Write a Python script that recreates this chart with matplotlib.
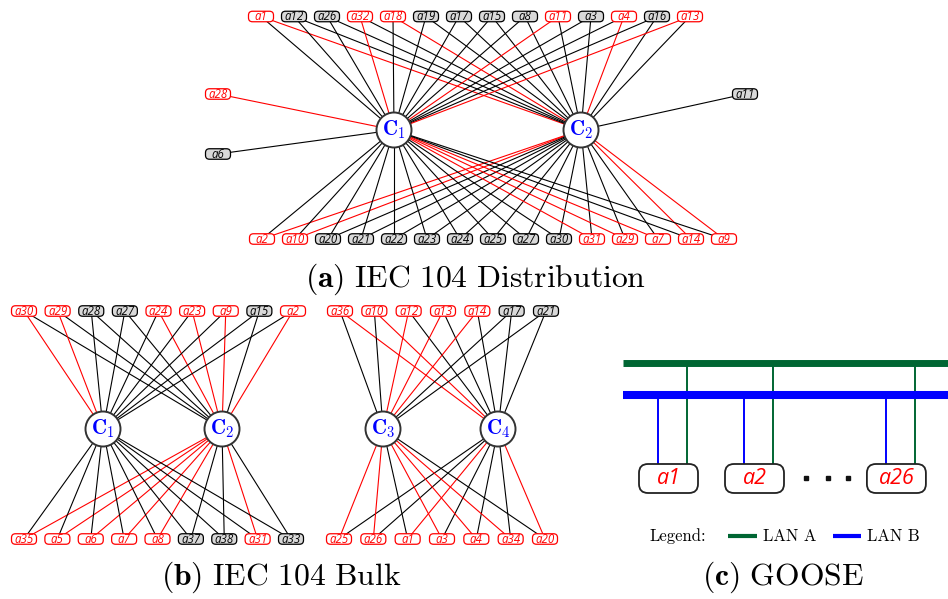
import numpy as np
import matplotlib
matplotlib.use("Agg")
import matplotlib.pyplot as plt
from matplotlib.patches import Circle, FancyBboxPatch

plt.rcParams['mathtext.fontset'] = 'cm'

RED = '#ff0000'
GRAY = '#d9d9d9'
GREEN = '#006633'
BLUE = '#0000ff'

# (a) IEC 104 Distribution: every outstation links to both centers,
# the number says which center's link is drawn red (0 = none)
top_a = ['a1', 'a12', 'a26', 'a32', 'a18', 'a19', 'a17', 'a15', 'a8', 'a11', 'a3', 'a4', 'a16', 'a13']
top_a_red = [2, 0, 0, 1, 2, 0, 0, 0, 0, 1, 0, 2, 0, 1]
bottom_a = ['a2', 'a10', 'a20', 'a21', 'a22', 'a23', 'a24', 'a25', 'a27', 'a30', 'a31', 'a29', 'a7', 'a14', 'a9']
bottom_a_red = [2, 2, 0, 0, 0, 0, 0, 0, 0, 0, 1, 1, 1, 2, 2]
# single-homed outstations
side_a = ['a28', 'a6', 'a11']
side_a_center = [1, 1, 2]
side_a_red = [1, 0, 0]

# (b) IEC 104 Bulk, left pair (C1, C2)
top_b1 = ['a30', 'a29', 'a28', 'a27', 'a24', 'a23', 'a9', 'a15', 'a2']
top_b1_red = [1, 1, 0, 0, 2, 2, 2, 0, 2]
bottom_b1 = ['a35', 'a5', 'a6', 'a7', 'a8', 'a37', 'a38', 'a31', 'a33']
bottom_b1_red = [2, 2, 2, 2, 2, 0, 0, 2, 0]

# (b) IEC 104 Bulk, right pair (C3, C4)
top_b2 = ['a36', 'a10', 'a12', 'a13', 'a14', 'a17', 'a21']
top_b2_red = [2, 2, 1, 1, 1, 0, 0]
bottom_b2 = ['a25', 'a26', 'a1', 'a3', 'a4', 'a34', 'a20']
bottom_b2_red = [1, 1, 2, 1, 1, 1, 2]

# (c) GOOSE
goose_nodes = ['a1', 'a2', 'a26']

fig = plt.figure(figsize=(9.48, 5.99), dpi=100)
ax = fig.add_axes([0, 0, 1, 1])
ax.set_xlim(0, 948)
ax.set_ylim(599, 0)
ax.axis('off')

BOX_W, BOX_H = 25, 10.5
R = 17.5


def node_box(x, y, name, red, w=BOX_W, h=BOX_H, rs=4, fs=8.3, lw=0.9):
    edge = RED if red else 'black'
    face = 'white' if red else GRAY
    ax.add_patch(FancyBboxPatch((x - w / 2, y - h / 2), w, h,
                                boxstyle=f'round,pad=0,rounding_size={rs}',
                                fc=face, ec=edge, lw=lw, zorder=3))
    ax.text(x, y + 0.4, name, ha='center', va='center', fontsize=fs,
            family='Open Sans', style='italic', color=RED if red else 'black', zorder=4)


def center(x, y, idx):
    ax.add_patch(Circle((x, y), R, fc='white', ec='#333333', lw=1.4, zorder=3))
    ax.text(x, y, r'$\mathbf{C}_{\mathbf{%d}}$' % idx, ha='center', va='center',
            fontsize=15, color=BLUE, zorder=4)


def link(p, q, red):
    ax.plot([p[0], q[0]], [p[1], q[1]], color=RED if red else 'black', lw=0.8, zorder=1)


def bipartite(names, reds, xs, y, cpos):
    for name, r, x in zip(names, reds, xs):
        for k, c in enumerate(cpos):
            link((x, y), c, r == k + 1)
        node_box(x, y, name, r)


# ---- (a)
ca = [(394, 130), (581, 130)]
bipartite(top_a, top_a_red, np.linspace(261, 690, len(top_a)), 16.5, ca)
bipartite(bottom_a, bottom_a_red, np.linspace(262, 724, len(bottom_a)), 239, ca)
side_pos = [(218, 94), (218, 154), (745, 94)]
for name, c, r, p in zip(side_a, side_a_center, side_a_red, side_pos):
    link(p, ca[c - 1], r == c)
    node_box(p[0], p[1], name, r)
for i, c in enumerate(ca):
    center(c[0], c[1], i + 1)
ax.text(476, 279, r'$\mathbf{(a)}\ \mathrm{IEC\ 104\ Distribution}$',
        ha='center', va='center', fontsize=22.8)

# ---- (b)
cb1 = [(103, 429), (222, 429)]
bipartite(top_b1, top_b1_red, np.linspace(24, 293, len(top_b1)), 311, cb1)
bipartite(bottom_b1, bottom_b1_red, np.linspace(24, 291, len(bottom_b1)), 539, cb1)
for i, c in enumerate(cb1):
    center(c[0], c[1], i + 1)

cb2 = [(383, 429), (498, 429)]
bipartite(top_b2, top_b2_red, np.linspace(340, 546, len(top_b2)), 311, cb2)
bipartite(bottom_b2, bottom_b2_red, np.linspace(339, 545, len(bottom_b2)), 539, cb2)
for i, c in enumerate(cb2):
    center(c[0], c[1], i + 3)
ax.text(281, 577, r'$\mathbf{(b)}\ \mathrm{IEC\ 104\ Bulk}$',
        ha='center', va='center', fontsize=22.8)

# ---- (c)
ax.plot([623, 948], [362.5, 362.5], color=GREEN, lw=5, solid_capstyle='butt', zorder=2)
ax.plot([623, 948], [395, 395], color=BLUE, lw=5.8, solid_capstyle='butt', zorder=2)
gx = 668.5 + 86 * np.array([0, 1, 2.65])
for name, x in zip(goose_nodes, gx):
    ax.plot([x - 10.5, x - 10.5], [395, 464], color=BLUE, lw=1.4, zorder=1)
    ax.plot([x + 18.5, x + 18.5], [362.5, 464], color=GREEN, lw=1.4, zorder=1)
    ax.add_patch(FancyBboxPatch((x - 29.5, 464), 59, 29,
                                boxstyle='round,pad=0,rounding_size=9',
                                fc='white', ec='#222222', lw=1.3, zorder=3))
    ax.text(x, 479, name, ha='center', va='center', fontsize=15.5,
            family='Open Sans', style='italic', color=RED, zorder=4)
ax.plot(gx[1] + np.array([52, 74, 94]), [478, 478, 478], ls='none', marker='s',
        ms=3.5, color='#111111')

ax.text(649, 536, 'Legend:', ha='left', va='center', fontsize=12, family='cmr10')
ax.plot([728, 757], [536, 536], color=GREEN, lw=3, solid_capstyle='butt')
ax.text(763, 536, 'LAN A', ha='left', va='center', fontsize=12, family='cmr10')
ax.plot([833, 861], [536, 536], color=BLUE, lw=3, solid_capstyle='butt')
ax.text(867, 536, 'LAN B', ha='left', va='center', fontsize=12, family='cmr10')
ax.text(783, 577, r'$\mathbf{(c)}\ \mathrm{GOOSE}$',
        ha='center', va='center', fontsize=22.8)

fig.savefig('out.png', dpi=100)
